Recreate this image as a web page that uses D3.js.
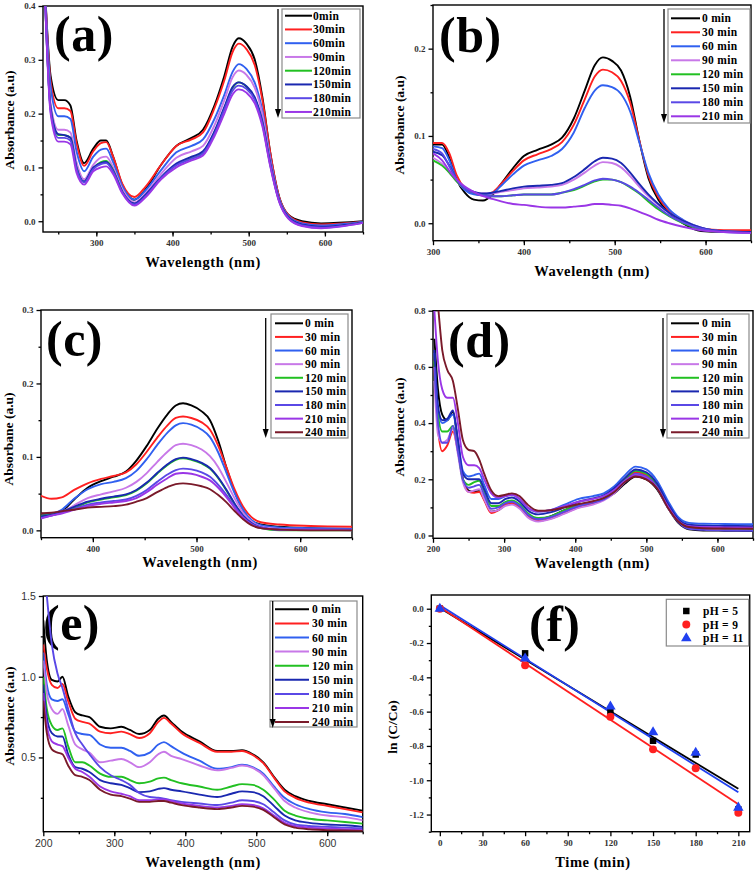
<!DOCTYPE html>
<html><head><meta charset="utf-8">
<script src="https://cdn.jsdelivr.net/npm/d3@7"></script>
<style>body{margin:0;background:#fff}svg{display:block}</style>
</head><body><svg id="c" width="756" height="874"></svg>
<script>
// ---------- DATA ----------
const labels8a = ["0min","30min","60min","90min","120min","150min","180min","210min"];
const labels8b = ["0 min","30 min","60 min","90 min","120 min","150 min","180 min","210 min"];
const labels9 = ["0 min","30 min","60 min","90 min","120 min","150 min","180 min","210 min","240 min"];
const colors9 = ["#000000","#ff2020","#3060f0","#c878e8","#22c022","#1a28b0","#5a48e6","#9a36e6","#7a1a2a"];

// Panel (a)
const aWave = [232,240,250,258,266,274,284,296,306,313,322,334,350,365,385,405,425,440,455,468,479,487,497,508,518,528,540,552,570,595,650];
const a_0   = [0.45,0.27,0.225,0.225,0.215,0.15,0.108,0.135,0.15,0.15,0.12,0.068,0.04,0.06,0.105,0.14,0.155,0.17,0.215,0.27,0.325,0.34,0.33,0.3,0.23,0.13,0.045,0.012,0.0,-0.004,0.0];
const a_30  = [0.45,0.26,0.21,0.21,0.205,0.145,0.103,0.13,0.145,0.147,0.12,0.07,0.045,0.065,0.105,0.14,0.152,0.165,0.21,0.262,0.315,0.33,0.32,0.29,0.225,0.13,0.045,0.012,-0.002,-0.006,-0.001];
const a_60  = [0.45,0.25,0.195,0.195,0.19,0.13,0.093,0.12,0.133,0.135,0.11,0.065,0.04,0.058,0.095,0.128,0.14,0.152,0.19,0.235,0.278,0.292,0.283,0.257,0.205,0.12,0.042,0.01,-0.004,-0.008,-0.001];
const a_90  = [0.45,0.22,0.17,0.17,0.165,0.11,0.078,0.105,0.118,0.12,0.1,0.06,0.035,0.052,0.088,0.118,0.13,0.14,0.178,0.225,0.268,0.28,0.272,0.248,0.198,0.115,0.04,0.008,-0.006,-0.01,-0.002];
const a_120 = [0.44,0.21,0.16,0.16,0.155,0.1,0.073,0.098,0.11,0.112,0.095,0.055,0.032,0.048,0.08,0.105,0.118,0.128,0.165,0.21,0.248,0.258,0.25,0.228,0.183,0.108,0.038,0.007,-0.007,-0.011,-0.002];
const a_150 = [0.44,0.21,0.162,0.16,0.155,0.1,0.074,0.1,0.108,0.11,0.094,0.055,0.033,0.05,0.082,0.107,0.12,0.13,0.167,0.212,0.25,0.258,0.251,0.23,0.185,0.11,0.039,0.008,-0.006,-0.01,-0.002];
const a_180 = [0.44,0.205,0.155,0.155,0.15,0.097,0.072,0.097,0.106,0.108,0.092,0.054,0.031,0.047,0.08,0.104,0.116,0.126,0.162,0.207,0.243,0.252,0.246,0.225,0.18,0.106,0.037,0.006,-0.008,-0.012,-0.003];
const a_210 = [0.44,0.2,0.148,0.148,0.143,0.09,0.068,0.093,0.1,0.102,0.088,0.052,0.029,0.045,0.078,0.1,0.113,0.122,0.158,0.2,0.236,0.245,0.239,0.219,0.176,0.104,0.036,0.005,-0.009,-0.013,-0.003];

// Panel (b)
const bWave = [300,310,318,326,335,345,355,365,375,388,400,415,430,442,455,467,478,487,497,507,517,527,537,548,560,575,595,620,650];
const b_0   = [0.09,0.09,0.075,0.05,0.035,0.027,0.026,0.032,0.045,0.063,0.077,0.084,0.09,0.098,0.12,0.152,0.181,0.19,0.186,0.175,0.145,0.095,0.052,0.027,0.012,0.0,-0.009,-0.01,-0.01];
const b_30  = [0.092,0.092,0.08,0.055,0.04,0.034,0.032,0.035,0.045,0.06,0.072,0.079,0.085,0.093,0.113,0.142,0.168,0.176,0.173,0.163,0.138,0.095,0.055,0.03,0.014,0.002,-0.006,-0.008,-0.008];
const b_60  = [0.088,0.086,0.072,0.05,0.038,0.033,0.032,0.034,0.043,0.056,0.066,0.072,0.077,0.085,0.104,0.132,0.152,0.158,0.156,0.148,0.128,0.093,0.058,0.033,0.016,0.004,-0.005,-0.009,-0.01];
const b_90  = [0.075,0.068,0.058,0.048,0.04,0.036,0.034,0.034,0.036,0.038,0.04,0.041,0.042,0.044,0.05,0.058,0.066,0.07,0.069,0.064,0.054,0.042,0.031,0.021,0.012,0.003,-0.005,-0.009,-0.01];
const b_120 = [0.072,0.066,0.058,0.048,0.04,0.035,0.032,0.031,0.031,0.032,0.033,0.033,0.033,0.035,0.038,0.043,0.048,0.05,0.05,0.047,0.041,0.034,0.025,0.016,0.008,0.0,-0.007,-0.01,-0.01];
const b_150 = [0.082,0.078,0.066,0.05,0.04,0.036,0.034,0.035,0.037,0.04,0.042,0.043,0.044,0.046,0.053,0.062,0.071,0.075,0.074,0.069,0.058,0.045,0.033,0.022,0.012,0.003,-0.005,-0.009,-0.01];
const b_180 = [0.085,0.08,0.065,0.05,0.04,0.035,0.032,0.031,0.031,0.032,0.033,0.033,0.033,0.035,0.039,0.044,0.049,0.051,0.05,0.047,0.042,0.035,0.027,0.018,0.009,0.001,-0.006,-0.01,-0.011];
const b_210 = [0.08,0.072,0.06,0.05,0.042,0.036,0.031,0.028,0.025,0.022,0.021,0.019,0.018,0.018,0.019,0.02,0.022,0.022,0.021,0.02,0.017,0.013,0.009,0.004,0.0,-0.004,-0.008,-0.01,-0.011];

// Panel (c)
const cWave = [350,360,370,382,395,408,420,432,442,452,462,472,480,487,495,505,513,521,529,537,545,553,562,580,610,650];
const c_0   = [0.023,0.022,0.026,0.042,0.058,0.067,0.073,0.08,0.095,0.115,0.138,0.158,0.17,0.173,0.17,0.162,0.15,0.122,0.085,0.052,0.027,0.013,0.008,0.005,0.003,0.002];
const c_30  = [0.047,0.043,0.045,0.055,0.064,0.07,0.074,0.079,0.09,0.107,0.126,0.143,0.153,0.155,0.153,0.147,0.137,0.115,0.085,0.055,0.032,0.018,0.011,0.008,0.006,0.005];
const c_60  = [0.02,0.022,0.028,0.043,0.056,0.063,0.066,0.071,0.081,0.097,0.116,0.133,0.143,0.146,0.144,0.137,0.127,0.106,0.078,0.05,0.028,0.014,0.007,0.004,0.003,0.002];
const c_90  = [0.018,0.02,0.025,0.034,0.044,0.049,0.053,0.058,0.066,0.078,0.093,0.107,0.116,0.118,0.116,0.11,0.101,0.086,0.065,0.043,0.024,0.012,0.005,0.002,0.001,0.001];
const c_120 = [0.02,0.021,0.024,0.03,0.038,0.042,0.045,0.048,0.054,0.064,0.077,0.089,0.096,0.098,0.096,0.091,0.084,0.071,0.054,0.035,0.019,0.009,0.003,0.0,0.0,0.0];
const c_150 = [0.019,0.021,0.025,0.032,0.039,0.043,0.046,0.049,0.055,0.065,0.078,0.09,0.097,0.099,0.097,0.092,0.085,0.072,0.055,0.036,0.02,0.01,0.004,0.001,0.001,0.001];
const c_180 = [0.017,0.02,0.024,0.029,0.035,0.038,0.04,0.042,0.047,0.055,0.066,0.076,0.082,0.084,0.083,0.079,0.073,0.062,0.048,0.032,0.018,0.009,0.004,0.001,0.001,0.001];
const c_210 = [0.016,0.02,0.023,0.028,0.033,0.036,0.038,0.04,0.044,0.052,0.062,0.071,0.077,0.078,0.077,0.073,0.068,0.058,0.045,0.03,0.017,0.008,0.003,0.001,0.001,0.0];
const c_240 = [0.023,0.024,0.026,0.028,0.031,0.032,0.033,0.035,0.039,0.044,0.052,0.059,0.063,0.064,0.063,0.06,0.056,0.048,0.038,0.026,0.015,0.007,0.003,0.001,0.0,0.0];

// Panel (d)
const dWave = [202,207,213,220,228,235,242,250,258,265,272,282,292,302,311,322,333,348,365,385,405,425,440,455,470,485,500,515,530,545,560,580,610,650];
const d_0   = [0.70,0.52,0.43,0.41,0.44,0.33,0.2,0.16,0.155,0.158,0.13,0.085,0.09,0.11,0.115,0.1,0.07,0.058,0.068,0.09,0.108,0.118,0.13,0.15,0.185,0.21,0.2,0.165,0.1,0.045,0.022,0.018,0.017,0.016];
const d_30  = [0.60,0.38,0.30,0.32,0.37,0.3,0.2,0.155,0.152,0.155,0.125,0.08,0.09,0.11,0.115,0.1,0.07,0.052,0.06,0.08,0.1,0.113,0.128,0.155,0.195,0.225,0.215,0.175,0.105,0.05,0.028,0.024,0.022,0.02];
const d_60  = [0.65,0.45,0.40,0.41,0.43,0.34,0.23,0.21,0.215,0.22,0.18,0.13,0.13,0.14,0.145,0.13,0.1,0.085,0.09,0.11,0.13,0.14,0.15,0.175,0.215,0.245,0.235,0.195,0.125,0.065,0.045,0.042,0.041,0.04];
const d_90  = [0.55,0.36,0.33,0.34,0.38,0.29,0.19,0.155,0.16,0.165,0.13,0.085,0.09,0.105,0.11,0.095,0.065,0.05,0.058,0.078,0.098,0.11,0.125,0.15,0.19,0.215,0.205,0.17,0.1,0.05,0.03,0.027,0.026,0.025];
const d_120 = [0.62,0.43,0.37,0.37,0.39,0.31,0.2,0.18,0.19,0.195,0.155,0.105,0.105,0.12,0.125,0.11,0.08,0.062,0.068,0.09,0.11,0.12,0.133,0.16,0.2,0.23,0.22,0.18,0.11,0.052,0.03,0.026,0.025,0.024];
const d_150 = [0.66,0.46,0.41,0.415,0.445,0.34,0.22,0.2,0.2,0.2,0.165,0.115,0.115,0.13,0.135,0.12,0.09,0.075,0.082,0.1,0.12,0.132,0.143,0.168,0.205,0.235,0.225,0.185,0.115,0.058,0.038,0.035,0.034,0.033];
const d_180 = [0.60,0.40,0.33,0.33,0.39,0.3,0.2,0.17,0.175,0.18,0.145,0.095,0.1,0.115,0.12,0.105,0.075,0.058,0.065,0.085,0.105,0.117,0.128,0.155,0.19,0.22,0.21,0.172,0.103,0.048,0.024,0.02,0.018,0.017];
const d_210 = [0.80,0.62,0.52,0.49,0.49,0.4,0.28,0.25,0.25,0.24,0.2,0.15,0.135,0.14,0.145,0.13,0.1,0.085,0.09,0.105,0.12,0.13,0.14,0.162,0.195,0.215,0.205,0.17,0.105,0.052,0.033,0.03,0.029,0.028];
const d_240 = [0.95,0.82,0.66,0.59,0.55,0.45,0.34,0.305,0.3,0.27,0.22,0.16,0.14,0.145,0.15,0.14,0.11,0.088,0.09,0.1,0.112,0.122,0.133,0.155,0.19,0.21,0.2,0.168,0.1,0.05,0.03,0.026,0.025,0.024];

// Panel (e)
const eWave = [200,205,212,220,227,235,245,255,265,280,295,310,322,335,350,362,370,380,395,420,445,465,480,495,510,525,540,555,575,600,625,650];
const e_0   = [1.35,1.1,0.98,0.97,1.0,0.88,0.78,0.76,0.75,0.69,0.68,0.69,0.67,0.645,0.67,0.74,0.76,0.72,0.66,0.6,0.54,0.54,0.545,0.52,0.47,0.38,0.3,0.26,0.23,0.21,0.19,0.17];
const e_30  = [1.2,1.05,0.95,0.93,0.955,0.85,0.74,0.72,0.71,0.66,0.65,0.66,0.645,0.62,0.65,0.72,0.745,0.71,0.65,0.59,0.535,0.535,0.54,0.515,0.465,0.375,0.29,0.25,0.22,0.2,0.18,0.16];
const e_60  = [1.15,0.95,0.86,0.85,0.86,0.77,0.66,0.645,0.64,0.58,0.56,0.56,0.54,0.51,0.53,0.58,0.595,0.57,0.53,0.48,0.43,0.44,0.455,0.44,0.4,0.32,0.25,0.21,0.18,0.16,0.15,0.13];
const e_90  = [1.1,0.9,0.8,0.77,0.8,0.7,0.58,0.55,0.53,0.47,0.48,0.49,0.47,0.44,0.47,0.52,0.535,0.51,0.49,0.45,0.42,0.435,0.45,0.435,0.39,0.31,0.23,0.19,0.16,0.14,0.13,0.11];
const e_120 = [1.0,0.8,0.7,0.67,0.68,0.57,0.47,0.47,0.45,0.4,0.38,0.38,0.36,0.34,0.35,0.37,0.375,0.36,0.34,0.32,0.3,0.32,0.335,0.33,0.3,0.24,0.17,0.14,0.12,0.11,0.1,0.09];
const e_150 = [0.95,0.75,0.65,0.63,0.63,0.52,0.44,0.43,0.41,0.36,0.34,0.33,0.31,0.285,0.29,0.305,0.31,0.3,0.29,0.27,0.255,0.275,0.29,0.285,0.26,0.2,0.14,0.11,0.095,0.085,0.08,0.07];
const e_180 = [1.75,1.5,1.2,1.02,0.93,0.8,0.65,0.58,0.52,0.44,0.39,0.36,0.33,0.28,0.255,0.25,0.245,0.235,0.225,0.215,0.205,0.22,0.235,0.23,0.21,0.16,0.11,0.085,0.075,0.07,0.065,0.06];
const e_210 = [0.9,0.7,0.6,0.58,0.57,0.5,0.43,0.41,0.38,0.32,0.29,0.275,0.26,0.235,0.235,0.24,0.24,0.23,0.215,0.2,0.19,0.2,0.21,0.205,0.185,0.14,0.095,0.075,0.065,0.06,0.055,0.05];
const e_240 = [0.85,0.65,0.55,0.53,0.52,0.45,0.39,0.38,0.36,0.3,0.27,0.26,0.245,0.225,0.225,0.23,0.23,0.22,0.205,0.19,0.18,0.19,0.2,0.195,0.175,0.13,0.085,0.065,0.055,0.05,0.047,0.045];

// Panel (f)
const fTime = [0,60,120,150,180,210];
const f_pH5  = [0,-0.26,-0.60,-0.77,-0.85,-1.17];
const f_pH9  = [0,-0.33,-0.63,-0.82,-0.93,-1.19];
const f_pH11 = [0,-0.29,-0.57,-0.72,-0.84,-1.16];
const fFitX = [0,210];
const fFit_pH5  = [0.005,-1.05];
const fFit_pH9  = [0.01,-1.14];
const fFit_pH11 = [0.02,-1.07];
const fLegend = ["pH = 5","pH = 9","pH = 11"];
const fColors = ["#000000","#ff2020","#2040f0"];

// ---------- DRAWING ----------
const svg = d3.select("#c");
const serif = "'Liberation Serif','Times New Roman',serif";
const sans = "'Liberation Sans',Arial,sans-serif";
let clipN = 0;

function range(a, b, s) { const r = []; for (let v = a; v <= b + 1e-9; v += s) r.push(+v.toFixed(6)); return r; }

function frame(p) {
  const x = d3.scaleLinear().domain(p.xDomain).range([p.left, p.right]);
  const y = d3.scaleLinear().domain(p.yDomain).range([p.bottom, p.top]);
  const g = svg.append("g");
  const tickFont = p.tickFont || serif;
  const xm = g.append("g").attr("transform", `translate(0,${p.bottom})`)
    .call(d3.axisBottom(x).tickValues(p.xMinor.filter(v => v >= p.xDomain[0] && v <= p.xDomain[1])).tickFormat("").tickSize(2.5).tickSizeOuter(0));
  const ym = g.append("g").attr("transform", `translate(${p.left},0)`)
    .call(d3.axisLeft(y).tickValues(p.yMinor.filter(v => v >= p.yDomain[0] && v <= p.yDomain[1])).tickFormat("").tickSize(2.5).tickSizeOuter(0));
  const xa = g.append("g").attr("transform", `translate(0,${p.bottom})`)
    .call(d3.axisBottom(x).tickValues(p.xTicks).tickFormat(p.xFmt).tickSize(4.5).tickPadding(3).tickSizeOuter(0));
  const ya = g.append("g").attr("transform", `translate(${p.left},0)`)
    .call(d3.axisLeft(y).tickValues(p.yTicks).tickFormat(p.yFmt).tickSize(4.5).tickPadding(3).tickSizeOuter(0));
  [xm, ym, xa, ya].forEach(a => { a.select(".domain").remove(); a.selectAll("line").attr("stroke", "#000").attr("stroke-width", 1.3); });
  [xa, ya].forEach(a => a.selectAll("text").attr("font-family", tickFont).attr("font-weight", p.tickWeight || "bold")
      .attr("font-size", p.tickSize || 9).attr("fill", "#333"));
  g.append("rect").attr("x", p.left).attr("y", p.top).attr("width", p.right - p.left).attr("height", p.bottom - p.top)
    .attr("fill", "none").attr("stroke", "#000").attr("stroke-width", 1.4);
  svg.append("text").attr("x", p.xTitle[0]).attr("y", p.xTitle[1]).attr("text-anchor", "middle")
    .attr("font-family", serif).attr("font-weight", "bold").attr("font-size", 14.5).attr("letter-spacing", 0.6).text(p.xLabel);
  svg.append("text").attr("transform", `translate(${p.yTitle[0]},${p.yTitle[1]}) rotate(-90)`).attr("text-anchor", "middle")
    .attr("font-family", serif).attr("font-weight", "bold").attr("font-size", 13.5).text(p.yLabel);
  svg.append("text").attr("x", p.tag[0]).attr("y", p.tag[1]).attr("font-family", serif).attr("font-weight", "bold")
    .attr("font-size", 50).attr("letter-spacing", 0.5).text(p.tagText);
  return { x, y };
}

function spectra(p, xs, series, names) {
  const { x, y } = frame(p);
  const id = "clip" + (clipN++);
  svg.append("clipPath").attr("id", id).append("rect").attr("x", p.left).attr("y", p.top)
    .attr("width", p.right - p.left).attr("height", p.bottom - p.top);
  const line = d3.line().x(d => x(d[0])).y(d => y(d[1])).curve(d3.curveMonotoneX);
  const cg = svg.append("g").attr("clip-path", `url(#${id})`);
  series.forEach((s, i) => {
    cg.append("path").attr("d", line(xs.map((v, j) => [v, s[j]]))).attr("fill", "none")
      .attr("stroke", colors9[i]).attr("stroke-width", 1.9).attr("stroke-linejoin", "round");
  });
  const L = p.legend;
  svg.append("rect").attr("x", L.box[0]).attr("y", L.box[1]).attr("width", L.box[2] - L.box[0]).attr("height", L.box[3] - L.box[1])
    .attr("fill", "#fff").attr("stroke", "#8a8a8a").attr("stroke-width", 1.2);
  names.forEach((n, i) => {
    const yy = L.row0 + i * L.dy;
    svg.append("line").attr("x1", L.line[0]).attr("x2", L.line[1]).attr("y1", yy).attr("y2", yy)
      .attr("stroke", colors9[i]).attr("stroke-width", 2);
    svg.append("text").attr("x", L.textX).attr("y", yy + 4).attr("font-family", serif).attr("font-weight", "bold")
      .attr("font-size", 11.5).attr("letter-spacing", 0.3).text(n);
  });
  svg.append("line").attr("x1", L.arrow[0]).attr("x2", L.arrow[0]).attr("y1", L.arrow[1]).attr("y2", L.arrow[2] - 6)
    .attr("stroke", "#000").attr("stroke-width", 1.3);
  const ax = L.arrow[0], ab = L.arrow[2];
  svg.append("path").attr("d", `M${ax - 3},${ab - 9} L${ax + 3},${ab - 9} L${ax},${ab} Z`).attr("fill", "#000");
}

const fmt1 = d3.format(".1f");

spectra({
  left: 43, right: 363, top: 6, bottom: 232, xDomain: [230, 650], yDomain: [-0.02, 0.4],
  xTicks: [300, 400, 500, 600], xMinor: range(250, 650, 50), yTicks: [0, 0.1, 0.2, 0.3, 0.4], yMinor: range(0.05, 0.35, 0.1),
  xFmt: d3.format("d"), yFmt: fmt1, xTitle: [203, 267], yTitle: [14, 120], xLabel: "Wavelength (nm)", yLabel: "Absorbance (a.u)",
  tag: [54, 51], tagText: "(a)",
  legend: { box: [282, 9, 360, 118], row0: 15.7, dy: 13.75, line: [285, 312], textX: 313, arrow: [278, 9, 118] }
}, aWave, [a_0, a_30, a_60, a_90, a_120, a_150, a_180, a_210], labels8a);

spectra({
  left: 433, right: 751, top: 5, bottom: 240.7, xDomain: [300, 650], yDomain: [-0.02, 0.25],
  xTicks: [300, 400, 500, 600], xMinor: range(350, 650, 50), yTicks: [0, 0.1, 0.2], yMinor: range(0.05, 0.25, 0.1),
  xFmt: d3.format("d"), yFmt: fmt1, xTitle: [592, 276], yTitle: [404, 125], xLabel: "Wavelength (nm)", yLabel: "Absorbance (a.u)",
  tag: [439, 52], tagText: "(b)",
  legend: { box: [668, 9, 750, 123], row0: 18.3, dy: 14, line: [671, 700], textX: 702, arrow: [664, 9, 123] }
}, bWave, [b_0, b_30, b_60, b_90, b_120, b_150, b_180, b_210], labels8b);

spectra({
  left: 41, right: 352, top: 310, bottom: 537.7, xDomain: [350, 650], yDomain: [-0.01, 0.3],
  xTicks: [400, 500, 600], xMinor: range(350, 650, 50), yTicks: [0, 0.1, 0.2, 0.3], yMinor: range(0.05, 0.25, 0.1),
  xFmt: d3.format("d"), yFmt: fmt1, xTitle: [200, 567], yTitle: [13, 439], xLabel: "Wavelength (nm)", yLabel: "Absorbane (a.u)",
  tag: [46, 356], tagText: "(c)",
  legend: { box: [271, 314, 348, 438], row0: 323.3, dy: 13.62, line: [275, 303], textX: 305, arrow: [265.7, 318, 438] }
}, cWave, [c_0, c_30, c_60, c_90, c_120, c_150, c_180, c_210, c_240], labels9);

spectra({
  left: 433, right: 753, top: 310.7, bottom: 538.3, xDomain: [200, 650], yDomain: [-0.01, 0.8],
  xTicks: [200, 300, 400, 500, 600], xMinor: range(250, 650, 50), yTicks: [0, 0.2, 0.4, 0.6, 0.8], yMinor: range(0.1, 0.7, 0.2),
  xFmt: d3.format("d"), yFmt: fmt1, xTitle: [592, 568], yTitle: [404, 427], xLabel: "Wavelength (nm)", yLabel: "Absorbance (a.u)",
  tag: [448, 357], tagText: "(d)",
  legend: { box: [667, 314, 749, 438], row0: 323.3, dy: 13.62, line: [671, 699], textX: 702, arrow: [663, 318, 438] }
}, dWave, [d_0, d_30, d_60, d_90, d_120, d_150, d_180, d_210, d_240], labels9);

spectra({
  left: 43.3, right: 362.7, top: 596, bottom: 831.7, xDomain: [200, 650], yDomain: [0.04, 1.5],
  xTicks: [200, 300, 400, 500, 600], xMinor: range(250, 650, 50), yTicks: [0.5, 1.0, 1.5], yMinor: [0.25, 0.75, 1.25],
  xFmt: d3.format("d"), yFmt: fmt1, tickFont: sans, tickWeight: "normal", tickSize: 10.5,
  xTitle: [203, 867], yTitle: [14, 716], xLabel: "Wavelength (nm)", yLabel: "Absorbance (a.u)",
  tag: [43, 640], tagText: "(e)",
  legend: { box: [270, 601, 357, 727], row0: 609.3, dy: 14.1, line: [275, 309], textX: 312, arrow: [272.7, 601, 728] }
}, eWave, [e_0, e_30, e_60, e_90, e_120, e_150, e_180, e_210, e_240], labels9);

// Panel (f)
(function () {
  const p = {
    left: 431.3, right: 749.7, top: 595, bottom: 831.7, xDomain: [-6, 218], yDomain: [-1.3, 0.08],
    xTicks: range(0, 210, 30), xMinor: range(15, 210, 30), yTicks: range(-1.2, 0, 0.2), yMinor: range(-1.3, 0, 0.2),
    xFmt: d3.format("d"), yFmt: v => fmt1(v).replace("−", "-"), xTitle: [593, 867], yTitle: [397, 727], xLabel: "Time (min)", yLabel: "ln (C/Co)",
    tag: [529, 641], tagText: "(f)"
  };
  const { x, y } = frame(p);
  const fits = [fFit_pH5, fFit_pH9, fFit_pH11];
  const pts = [f_pH5, f_pH9, f_pH11];
  fits.forEach((f, i) => {
    svg.append("line").attr("x1", x(fFitX[0])).attr("x2", x(fFitX[1])).attr("y1", y(f[0])).attr("y2", y(f[1]))
      .attr("stroke", fColors[i]).attr("stroke-width", 1.8);
  });
  const sym = [d3.symbolSquare, d3.symbolCircle, d3.symbolTriangle];
  const sz = [42, 50, 48];
  pts.forEach((s, i) => {
    fTime.forEach((t, j) => {
      svg.append("path").attr("d", d3.symbol().type(sym[i]).size(sz[i])())
        .attr("transform", `translate(${x(t)},${y(s[j])})`).attr("fill", fColors[i]);
    });
  });
  svg.append("rect").attr("x", 666.3).attr("y", 599.3).attr("width", 82.4).attr("height", 46.7)
    .attr("fill", "#fff").attr("stroke", "#8a8a8a").attr("stroke-width", 1.2);
  const rows = [611, 624.5, 638.3];
  fLegend.forEach((n, i) => {
    svg.append("path").attr("d", d3.symbol().type(sym[i]).size(sz[i])()).attr("transform", `translate(686.3,${rows[i]})`).attr("fill", fColors[i]);
    svg.append("text").attr("x", 703).attr("y", rows[i] + 4).attr("font-family", serif).attr("font-weight", "bold")
      .attr("font-size", 11.5).attr("letter-spacing", 0.3).text(n);
  });
})();
</script>
</body></html>
